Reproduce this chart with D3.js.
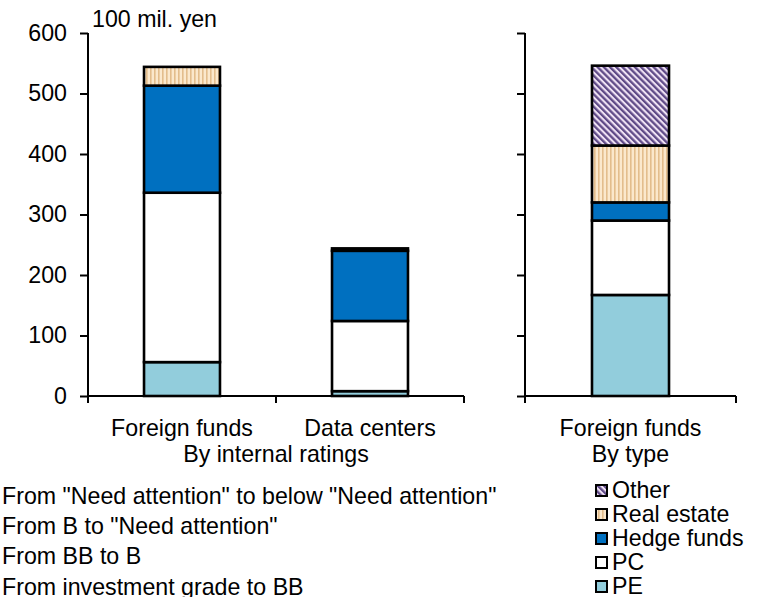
<!DOCTYPE html>
<html>
<head>
<meta charset="utf-8">
<script src="https://cdn.jsdelivr.net/npm/d3@7"></script>
<style>
  html, body { margin: 0; padding: 0; background: #fff; }
  svg { display: block; font-family: "Liberation Sans", Arial, sans-serif; }
</style>
</head>
<body>
<svg id="chart" width="762" height="597"></svg>
<script>
// Rating-migration amounts (100 mil. yen), stacked bottom to top
const ratingCategories = ["Foreign funds", "Data centers"];
const ratingSeries = [
  "From investment grade to BB",
  "From BB to B",
  "From B to \"Need attention\"",
  "From \"Need attention\" to below \"Need attention\""
];
const ratingInvestToBB   = [56, 8];
const ratingBBToB        = [280, 116];
const ratingBToAttention = [177, 116];
const ratingBelowAttn    = [31, 4];

// Foreign funds broken down by type, stacked bottom to top
const typeCategories = ["Foreign funds"];
const typeSeries = ["PE", "PC", "Hedge funds", "Real estate", "Other"];
const typePE    = [167];
const typePC    = [123];
const typeHedge = [30];
const typeReal  = [94];
const typeOther = [132];

const yTicks = [0, 100, 200, 300, 400, 500, 600];
const unitLabel = "100 mil. yen";
const ratingGroupLabel = "By internal ratings";
const typeGroupLabel = "By type";

const svg = d3.select("#chart");
const FONT = 23.2;

// ---- fills ----
const defs = svg.append("defs");
const stripes = defs.append("pattern")
  .attr("id", "pat-real").attr("patternUnits", "userSpaceOnUse")
  .attr("width", 4).attr("height", 4);
stripes.append("rect").attr("width", 4).attr("height", 4).attr("fill", "#fbe8cc");
stripes.append("rect").attr("x", 2).attr("width", 1.6).attr("height", 4).attr("fill", "#e3bd8c");

const diag = defs.append("pattern")
  .attr("id", "pat-other").attr("patternUnits", "userSpaceOnUse")
  .attr("width", 4.4).attr("height", 4.4)
  .attr("patternTransform", "rotate(-45)");
diag.append("rect").attr("width", 4.4).attr("height", 4.4).attr("fill", "#efe2f4");
diag.append("rect").attr("width", 2.3).attr("height", 4.4).attr("fill", "#5f4a87");

const ratingFill = {
  [ratingSeries[0]]: "#92cddc",
  [ratingSeries[1]]: "#ffffff",
  [ratingSeries[2]]: "#0070c0",
  [ratingSeries[3]]: "url(#pat-real)"
};
const typeFill = {
  "PE": "#92cddc",
  "PC": "#ffffff",
  "Hedge funds": "#0070c0",
  "Real estate": "url(#pat-real)",
  "Other": "url(#pat-other)"
};

// ---- scales ----
const y = d3.scaleLinear().domain([0, 600]).range([396, 33]);
const xL = d3.scaleBand().domain(ratingCategories).range([88, 464])
  .paddingInner(0.596).paddingOuter(0.298);
const xR = d3.scaleBand().domain(typeCategories).range([525, 736])
  .paddingInner(0.635).paddingOuter(0.3175);

// ---- stacked data ----
const ratingRows = ratingCategories.map((c, i) => ({
  cat: c,
  [ratingSeries[0]]: ratingInvestToBB[i],
  [ratingSeries[1]]: ratingBBToB[i],
  [ratingSeries[2]]: ratingBToAttention[i],
  [ratingSeries[3]]: ratingBelowAttn[i]
}));
const typeRows = typeCategories.map((c, i) => ({
  cat: c, "PE": typePE[i], "PC": typePC[i], "Hedge funds": typeHedge[i],
  "Real estate": typeReal[i], "Other": typeOther[i]
}));

function drawStack(rows, keys, x, fills) {
  const stacked = d3.stack().keys(keys)(rows);
  const g = svg.append("g");
  stacked.forEach(layer => {
    g.selectAll(null).data(layer).enter().append("rect")
      .attr("x", d => x(d.data.cat))
      .attr("width", x.bandwidth())
      .attr("y", d => y(d[1]))
      .attr("height", d => y(d[0]) - y(d[1]))
      .attr("fill", fills[layer.key])
      .attr("stroke", "#000")
      .attr("stroke-width", 2.6);
  });
}

drawStack(ratingRows, ratingSeries, xL, ratingFill);
drawStack(typeRows, typeSeries, xR, typeFill);

// ---- axes ----
function drawPanelAxes(x, withLabels) {
  const [x0, x1] = x.range();
  const ya = svg.append("g").attr("transform", `translate(${x0},0)`)
    .call(d3.axisLeft(y).tickValues(yTicks).tickSize(8).tickPadding(13)
      .tickFormat(withLabels ? d3.format("d") : () => ""));
  ya.select(".domain").attr("d", `M0,${y(600)}V${y(0)}`);
  ya.selectAll("path, line").attr("stroke", "#000").attr("stroke-width", 2);
  ya.selectAll("text").attr("font-size", FONT).attr("fill", "#000")
    .attr("font-family", "Liberation Sans, Arial, sans-serif");

  // category boundary ticks along the baseline
  const bounds = x.domain().map(c => x(c) - x.step() * x.paddingInner() / 2)
    .map((v, i) => i === 0 ? x0 : v).concat([x1]);
  const xa = svg.append("g");
  xa.append("line").attr("x1", x0).attr("x2", x1).attr("y1", y(0)).attr("y2", y(0))
    .attr("stroke", "#000").attr("stroke-width", 2);
  xa.selectAll(null).data(bounds).enter().append("line")
    .attr("x1", d => d).attr("x2", d => d)
    .attr("y1", y(0)).attr("y2", y(0) + 7)
    .attr("stroke", "#000").attr("stroke-width", 2);
  xa.selectAll(null).data(x.domain()).enter().append("text")
    .attr("x", d => x(d) + x.bandwidth() / 2)
    .attr("y", 436)
    .attr("text-anchor", "middle")
    .attr("font-size", FONT)
    .text(d => d);
}
drawPanelAxes(xL, true);
drawPanelAxes(xR, false);

svg.append("text").attr("x", 92).attr("y", 27).attr("font-size", FONT).text(unitLabel);
svg.append("text").attr("x", d3.mean(xL.range())).attr("y", 462)
  .attr("text-anchor", "middle").attr("font-size", FONT).text(ratingGroupLabel);
svg.append("text").attr("x", d3.mean(xR.range())).attr("y", 462)
  .attr("text-anchor", "middle").attr("font-size", FONT).text(typeGroupLabel);

// ---- legends ----
const ratingLegend = ratingSeries.slice().reverse();
svg.append("g").selectAll("text").data(ratingLegend).enter().append("text")
  .attr("x", 2)
  .attr("y", (d, i) => 504 + i * 30.2)
  .attr("font-size", FONT)
  .text(d => d);

const typeLegend = typeSeries.slice().reverse();
const tl = svg.append("g").selectAll("g").data(typeLegend).enter().append("g")
  .attr("transform", (d, i) => `translate(596,${498 + i * 24})`);
tl.append("rect").attr("x", 0).attr("y", -13).attr("width", 11).attr("height", 11)
  .attr("fill", d => typeFill[d]).attr("stroke", "#000").attr("stroke-width", 2);
tl.append("text").attr("x", 16).attr("y", 0).attr("font-size", FONT).text(d => d);
</script>
</body>
</html>
